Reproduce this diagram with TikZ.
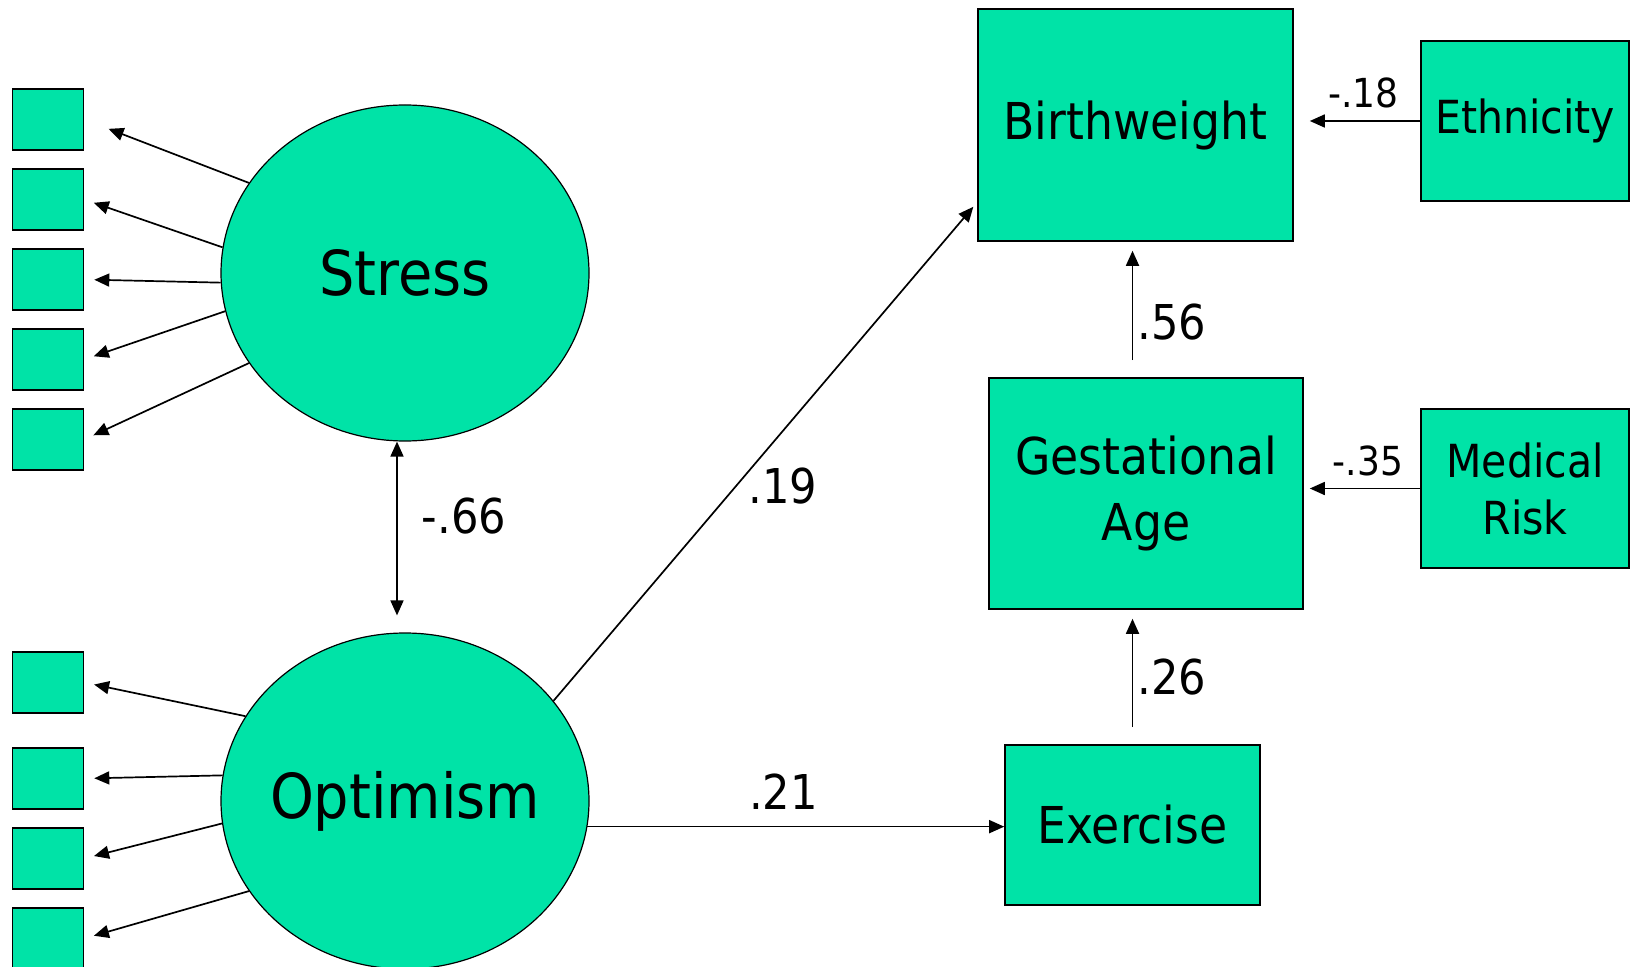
\documentclass[tikz,border=0pt]{standalone}
\usepackage{fontspec}
\setmainfont{DejaVu Sans Condensed}
\usetikzlibrary{shapes.geometric,arrows.meta}
\definecolor{semgreen}{RGB}{0,227,167}
\tikzset{>={Triangle[length=7.5pt,width=6.5pt]},
	latent/.style={ellipse,draw,fill=semgreen,line width=0.6pt,inner sep=-5pt,
		minimum width=184pt,minimum height=168pt,font=\fontsize{31}{37}\selectfont},
	measure/.style={rectangle,draw,fill=semgreen,line width=0.8pt,inner sep=0pt,
		align=center,font=\fontsize{25.4}{33}\selectfont},
	extra/.style={measure,font=\fontsize{22.8}{28.5}\selectfont},
	indicator/.style={rectangle,draw,fill=semgreen,line width=0.8pt,
		minimum width=35.5pt,minimum height=30.5pt,inner sep=0pt},
	link/.style={->,line width=0.85pt},
	coef/.style={font=\fontsize{24}{28}\selectfont,inner sep=2pt},
	coefsmall/.style={font=\fontsize{20}{24}\selectfont,inner sep=2pt}}

\begin{document}
\begin{tikzpicture}
	[x=0.5pt,y=-0.5pt]
	\useasboundingbox (0,0) rectangle (1636,967);
	% latent variables
	\node [latent] (stress) at (405,273) {Stress};
	\node [latent] (opt) at (405,801) {Optimism};
	% observed variables
	\node [measure,minimum width=157.5pt,minimum height=116pt] (bw) at (1135.5,125) {Birthweight};
	\node [measure,minimum width=157pt,minimum height=115.5pt] (ga) at (1146,493.5) {Gestational\\Age};
	\node [measure,minimum width=127.5pt,minimum height=80pt] (ex) at (1132.5,825) {Exercise};
	\node [extra,minimum width=104pt,minimum height=80pt] (eth) at (1525,121) {Ethnicity};
	\node [extra,minimum width=104pt,minimum height=79.5pt] (med) at (1525,488.5) {Medical\\Risk};
	% indicators
	\foreach \i/\y/\a/\s in {1/119.5/150/13, 2/199.5/172/5, 3/279.5/183/5, 4/359.5/192/5, 5/439.5/210/5} {
		\node [indicator] (s\i) at (48,\y) {};
		\draw [link,shorten >=\s pt] (stress.\a) -- (s\i.east);
	}
	\foreach \i/\y/\a in {1/682.5/152, 2/778.5/172.5, 3/858.5/187, 4/938.5/210} {
		\node [indicator] (o\i) at (48,\y) {};
		\draw [link,shorten >=5pt] (opt.\a) -- (o\i.east);
	}
	% paths
	\draw [<->,line width=0.85pt,shorten >=8.5pt] ([xshift=-4pt]stress.south) -- ([xshift=-4pt]opt.north)
		node [coef,pos=0.39,right,xshift=10pt] {-.66};
	\draw [link,shorten >=3pt] (opt.34) -- (bw.206)
		node [coef,pos=0.43,right,xshift=4pt] {.19};
	\draw [link] (opt.352) -- (opt.352 -| ex.west)
		node [coef,pos=0.47,above,yshift=6pt] {.21};
	\draw [link,shorten <=8.5pt,shorten >=4.5pt] (ex.north) -- (ex.north |- ga.south)
		node [coef,midway,right] {.26};
	\draw [link,shorten <=8.5pt,shorten >=4.5pt] (ex.north |- ga.north) -- (ex.north |- bw.south)
		node [coef,pos=0.41,right] {.56};
	\draw [link,shorten >=8pt] (eth.west) -- (eth.west -| bw.east)
		node [coefsmall,pos=0.45,above,yshift=4pt] {-.18};
	\draw [link,shorten >=3pt] (med.west) -- (med.west -| ga.east)
		node [coefsmall,pos=0.45,above,yshift=4pt] {-.35};
\end{tikzpicture}
\end{document}
